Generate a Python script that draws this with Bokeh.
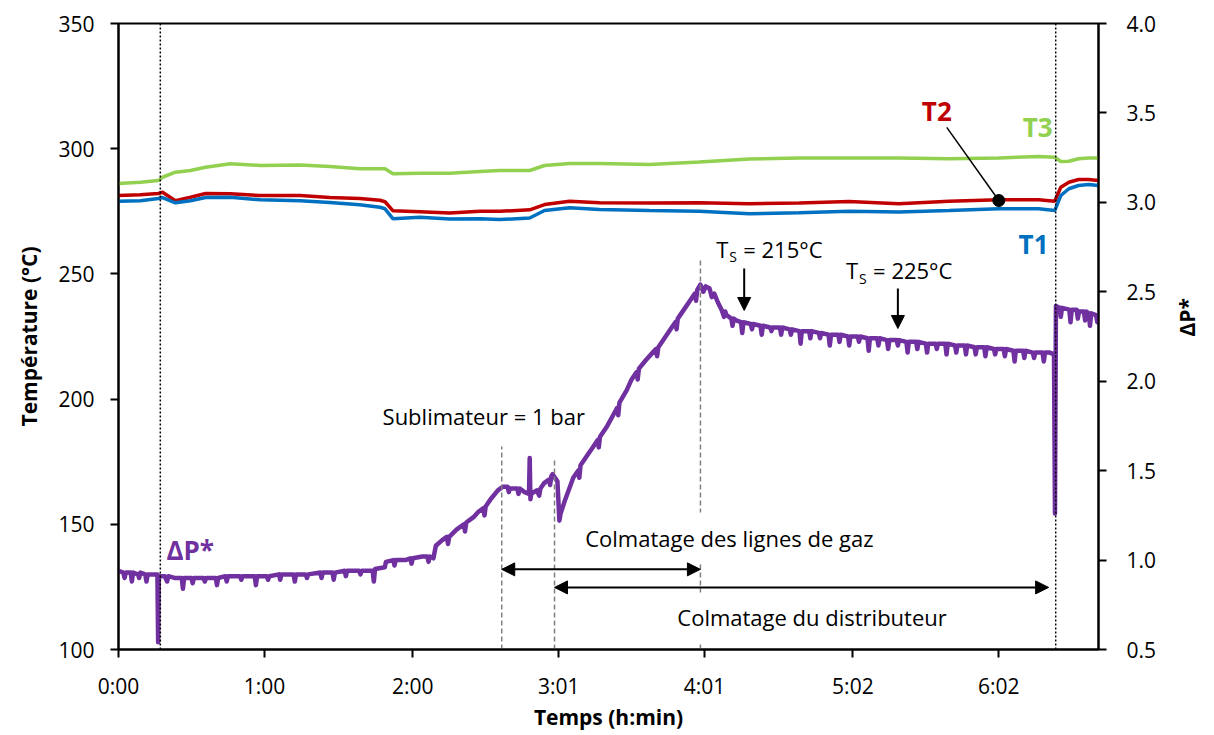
from bokeh.plotting import figure
from bokeh.models import (Range1d, LinearAxis, Label, Arrow, NormalHead,
                          FixedTicker, NumeralTickFormatter)
from bokeh.embed import file_html
from bokeh.resources import INLINE

# ---------------- data ----------------
# temperatures: time in minutes
t_temp = [0, 9.0, 16.4, 18.1, 23.4, 29.6, 35.8, 46.0, 58.3, 74.7, 86.9, 99.2,
          107.5, 109.6, 112.9, 123.9, 136.2, 148.6, 156.8, 169.1, 175.2, 185.5,
          197.8, 218.3, 238.8, 259.4, 279.9, 300.4, 320.9, 341.5, 362.0, 378.4,
          385.0, 387.5, 390.8, 394.8, 398.9, 403.0]
T3 = [286.1, 286.6, 287.3, 288.6, 290.6, 291.3, 292.6, 294.0, 293.3, 293.5, 292.9,
      292.0, 292.0, 292.0, 290.0, 290.2, 290.2, 290.9, 291.3, 291.3, 293.3, 294.1,
      294.1, 293.7, 294.7, 295.9, 296.3, 296.3, 296.3, 296.0, 296.3, 296.9, 296.6,
      294.9, 295.0, 296.0, 296.3, 296.3]
T2 = [281.3, 281.6, 282.1, 282.6, 279.2, 280.6, 282.1, 282.0, 281.3, 281.3, 280.5,
      280.1, 279.4, 278.8, 275.2, 274.8, 274.3, 275.0, 275.0, 275.6, 277.7, 279.0,
      278.4, 278.3, 278.4, 278.0, 278.3, 278.9, 278.0, 279.0, 279.6, 279.6, 279.0,
      284.6, 286.6, 287.7, 287.7, 287.3]
T1 = [279.0, 279.2, 280.1, 280.5, 278.4, 279.2, 280.5, 280.6, 279.6, 279.2, 278.5,
      277.6, 276.6, 276.0, 272.0, 272.6, 271.9, 272.0, 271.7, 272.3, 275.3, 276.4,
      275.7, 275.3, 275.0, 274.0, 274.4, 275.0, 274.7, 275.3, 276.0, 276.0, 275.3,
      281.3, 284.0, 285.3, 285.7, 285.3]

# pressure drop dP*, read in segments (time in minutes)
dpA_t = [0, 2, 2.5, 3, 5, 5.5, 6, 8, 8.5, 9, 11, 11.5, 12, 14, 16.0, 16.3, 16.6,
         19, 20, 20.5, 23, 26, 26.5, 27, 30, 30.5, 31, 35, 35.5, 36, 40, 40.5, 41,
         44, 44.5, 45, 50, 50.5, 51, 56, 56.5, 57, 61, 61.5, 62, 66, 66.5, 67,
         72, 72.5, 73, 77, 77.5, 78, 83, 83.5, 84, 88, 88.5, 89, 93, 93.5, 94,
         99, 99.5, 100, 104.5, 105, 105.5, 109.5]
dpA_v = [0.94, 0.93, 0.90, 0.93, 0.93, 0.88, 0.93, 0.92, 0.90, 0.93, 0.92, 0.88,
         0.92, 0.92, 0.92, 0.54, 0.91, 0.91, 0.88, 0.91, 0.90, 0.90, 0.84, 0.90,
         0.90, 0.87, 0.90, 0.90, 0.88, 0.90, 0.90, 0.86, 0.90, 0.91, 0.88, 0.91,
         0.91, 0.89, 0.91, 0.91, 0.86, 0.91, 0.91, 0.89, 0.91, 0.92, 0.89, 0.92,
         0.92, 0.88, 0.92, 0.92, 0.90, 0.92, 0.93, 0.90, 0.93, 0.93, 0.89, 0.93,
         0.94, 0.91, 0.94, 0.94, 0.92, 0.94, 0.94, 0.88, 0.95, 0.96]
dpB_t = [110, 113, 113.5, 114, 118, 120, 120.5, 121, 125, 127, 127.5, 128, 129.5, 130.5]
dpB_v = [0.99, 1.00, 0.97, 1.00, 1.00, 1.01, 0.98, 1.01, 1.02, 1.02, 0.99, 1.02, 1.01, 1.08]
dpC_t = [133, 135, 135.5, 136, 139, 142, 142.5, 143, 146, 148, 150, 150.5, 151,
         153, 156, 158, 160, 160.5, 161, 164, 164.5, 165, 167, 168.8, 169.1,
         169.4, 169.7, 172, 173, 173.5, 175, 177, 177.5, 178, 178.5, 180.5, 181.3,
         181.8, 183.5]
dpC_v = [1.11, 1.13, 1.09, 1.13, 1.17, 1.20, 1.16, 1.21, 1.24, 1.27, 1.29, 1.25, 1.30,
         1.34, 1.39, 1.41, 1.41, 1.38, 1.40, 1.40, 1.37, 1.40, 1.38, 1.37, 1.57,
         1.34, 1.37, 1.39, 1.36, 1.40, 1.43, 1.45, 1.42, 1.47, 1.48, 1.44, 1.22,
         1.26, 1.33]
dpD_t = [187, 189, 189.5, 190, 193, 195, 197, 197.5, 198, 201, 203, 205, 205.5, 206,
         209, 211, 213, 213.5, 214, 217, 219, 221, 221.5, 222, 225, 227, 229, 229.5,
         230, 233, 235, 237, 237.5, 238, 239.3]
dpD_v = [1.46, 1.50, 1.46, 1.53, 1.59, 1.63, 1.67, 1.63, 1.69, 1.75, 1.80, 1.85, 1.81,
         1.88, 1.95, 2.01, 2.05, 2.01, 2.07, 2.12, 2.15, 2.18, 2.14, 2.19, 2.25, 2.29,
         2.33, 2.29, 2.35, 2.41, 2.45, 2.49, 2.45, 2.51, 2.54]
dpE_t = [240.5, 241.5, 243, 244, 245, 246.5, 248, 249, 249.5, 250, 252, 252.5, 253, 254,
         256, 256.5, 257, 260, 260.5, 261, 264, 264.5, 265, 268, 268.5, 269,
         272, 272.5, 273, 276, 276.5, 277, 280, 280.5, 281, 284, 284.5, 285,
         288, 288.5, 289, 292, 292.5, 293, 296, 296.5, 297, 300, 300.5, 301,
         304, 304.5, 305, 308, 308.5, 309, 312, 312.5, 313, 316, 316.5, 317,
         320, 320.5, 321, 324, 324.5, 325, 328, 328.5, 329, 332, 332.5, 333,
         336, 336.5, 337, 340, 340.5, 341, 344, 344.5, 345, 348, 348.5, 349,
         352, 352.5, 353, 356, 356.5, 357, 360, 360.5, 361, 364, 364.5, 365,
         368, 368.5, 369, 372, 372.5, 373, 376, 376.5, 377, 380, 380.5, 381,
         383, 384.7, 385.1, 385.5]
dpE_v = [2.50, 2.53, 2.52, 2.47, 2.49, 2.44, 2.40, 2.36, 2.39, 2.37, 2.35, 2.31, 2.35, 2.34,
         2.33, 2.27, 2.33, 2.32, 2.29, 2.32, 2.31, 2.26, 2.31, 2.30, 2.28, 2.30,
         2.30, 2.26, 2.30, 2.29, 2.26, 2.29, 2.28, 2.21, 2.28, 2.28, 2.24, 2.28,
         2.27, 2.24, 2.27, 2.26, 2.20, 2.26, 2.26, 2.22, 2.26, 2.25, 2.20, 2.25,
         2.25, 2.22, 2.25, 2.24, 2.17, 2.24, 2.24, 2.20, 2.24, 2.23, 2.18, 2.23,
         2.23, 2.20, 2.23, 2.22, 2.16, 2.22, 2.22, 2.18, 2.22, 2.21, 2.16, 2.21,
         2.21, 2.18, 2.21, 2.21, 2.15, 2.21, 2.20, 2.16, 2.20, 2.20, 2.15, 2.20,
         2.19, 2.15, 2.19, 2.19, 2.14, 2.19, 2.18, 2.15, 2.18, 2.18, 2.14, 2.18,
         2.17, 2.11, 2.17, 2.17, 2.13, 2.17, 2.16, 2.13, 2.16, 2.16, 2.11, 2.16,
         2.16, 2.15, 1.26, 2.42]
dpF_t = [387, 387.5, 388, 391, 391.5, 392, 394, 394.5, 395, 397, 397.5, 398, 399,
         399.5, 400, 402, 402.5, 403]
dpF_v = [2.41, 2.36, 2.41, 2.40, 2.33, 2.40, 2.40, 2.35, 2.39, 2.39, 2.34, 2.39, 2.38,
         2.31, 2.38, 2.37, 2.33, 2.37]

dp_time = dpA_t + dpB_t + dpC_t + dpD_t + dpE_t + dpF_t
dp_values = dpA_v + dpB_v + dpC_v + dpD_v + dpE_v + dpF_v
assert len(dp_time) == len(dp_values), (len(dp_time), len(dp_values))

tick_minutes = [0, 60, 121, 181, 241, 302, 362]
tick_labels = ["0:00", "1:00", "2:00", "3:01", "4:01", "5:02", "6:02"]
temp_ticks = [100, 150, 200, 250, 300, 350]
dp_ticks = [0.5, 1.0, 1.5, 2.0, 2.5, 3.0, 3.5, 4.0]

# event times (min)
dotted_times = [17.2, 385.4]
dashed_times = [157.6, 179.3, 239.3]
dashed_tops = [181.1, 175.5, 255.4]

FONT = "Open Sans"
C_T1, C_T2, C_T3, C_DP = "#0070C0", "#C00000", "#92D050", "#7030A0"

p = figure(frame_width=980, frame_height=626,
           x_range=Range1d(0, 403), y_range=Range1d(100, 350),
           output_backend="svg", toolbar_location=None,
           min_border_left=118, min_border_right=110,
           min_border_top=23, min_border_bottom=60)
p.extra_y_ranges = {"dp": Range1d(0.5, 4.0)}
p.xgrid.visible = False
p.ygrid.visible = False
p.outline_line_color = "black"
p.outline_line_width = 2
p.background_fill_color = "white"

# lines
p.line(t_temp, T3, color=C_T3, line_width=3.5)
p.line(t_temp, T2, color=C_T2, line_width=3.5)
p.line(t_temp, T1, color=C_T1, line_width=3.5)
p.line(dp_time, dp_values, color=C_DP, line_width=4.5, y_range_name="dp",
       line_join="round")

# vertical markers
p.segment(x0=dotted_times, y0=[100] * 2, x1=dotted_times, y1=[350] * 2,
          line_color="black", line_width=1.5, line_dash="2 2")
p.segment(x0=dashed_times, y0=[100] * 3, x1=dashed_times, y1=dashed_tops,
          line_color="#808080", line_width=1.5, line_dash="5 3")

# axes
p.xaxis.ticker = FixedTicker(ticks=tick_minutes)
p.xaxis.major_label_overrides = {t: l for t, l in zip(tick_minutes, tick_labels)}
p.xaxis.axis_label = "Temps (h:min)"
p.yaxis.ticker = FixedTicker(ticks=temp_ticks)
p.yaxis.axis_label = "Température (°C)"

ax_r = LinearAxis(y_range_name="dp", axis_label="ΔP*",
                  ticker=FixedTicker(ticks=dp_ticks),
                  formatter=NumeralTickFormatter(format="0.0"))
p.add_layout(ax_r, "right")
if hasattr(ax_r, "axis_label_orientation"):
    ax_r.axis_label_orientation = 1.5708

for ax in [p.xaxis[0], p.yaxis[0], ax_r]:
    ax.axis_line_width = 2
    ax.axis_line_color = "black"
    ax.major_tick_line_width = 2
    ax.major_tick_out = 8
    ax.major_tick_in = 0
    ax.minor_tick_line_color = None
    ax.major_label_text_font = FONT
    ax.major_label_text_font_size = "21px"
    ax.major_label_text_color = "black"
    ax.axis_label_text_font = FONT
    ax.axis_label_text_font_size = "21px"
    ax.axis_label_text_font_style = "bold"
    ax.axis_label_text_color = "black"

p.xaxis.major_label_standoff = 14
p.xaxis.axis_label_standoff = 0
p.yaxis.major_label_standoff = 16
p.yaxis.axis_label_standoff = 12
ax_r.major_label_standoff = 20
ax_r.axis_label_standoff = 28


def lab(x, y, text, color="black", size="22px", style="normal", bg=None,
        x_offset=0, y_offset=0, align="center"):
    kw = dict(x=x, y=y, text=text, text_color=color, text_font=FONT,
              text_font_size=size, text_font_style=style, text_align=align,
              text_baseline="middle", x_offset=x_offset, y_offset=y_offset)
    if bg:
        kw.update(background_fill_color=bg, padding=10)
    p.add_layout(Label(**kw))


def arrow(x0, y0, x1, y1, double=False):
    head = lambda: NormalHead(size=13, fill_color="black", line_color="black")
    kw = dict(end=head(), x_start=x0, y_start=y0, x_end=x1, y_end=y1,
              line_width=2, line_color="black")
    if double:
        kw["start"] = head()
    p.add_layout(Arrow(**kw))


# series labels
lab(336.5, 314.9, "T2", color=C_T2, size="26px", style="bold")
lab(378.0, 308.5, "T3", color=C_T3, size="26px", style="bold")
lab(376.3, 262.1, "T1", color=C_T1, size="26px", style="bold")
lab(29.5, 139.9, "ΔP*", color=C_DP, size="26px", style="bold")

# T2 pointer
p.segment(x0=[340.6], y0=[308.5], x1=[362.0], y1=[279.3],
          line_color="black", line_width=1.5)
p.scatter([362.0], [279.3], size=12, color="black")

# text annotations
lab(150.2, 193.1, "Sublimateur = 1 bar")
lab(251.2, 144.7, "Colmatage des lignes de gaz", bg="white")
lab(285.2, 112.8, "Colmatage du distributeur", bg="white")

arrow(157.6, 132.0, 239.3, 132.0, double=True)
arrow(179.3, 124.8, 382.5, 124.8, double=True)

# Ts labels
for xt, yt, txt in [(245.8, 260.1, "= 215°C"), (299.2, 251.4, "= 225°C")]:
    lab(xt, yt, "T", align="left")
    lab(xt, yt, "S", size="14px", align="left", x_offset=13, y_offset=-8)
    lab(xt, yt, txt, align="left", x_offset=27)

arrow(257.3, 252.2, 257.3, 235.4)
arrow(320.5, 244.2, 320.5, 228.2)

open("out.html", "w").write(file_html(p, INLINE))
